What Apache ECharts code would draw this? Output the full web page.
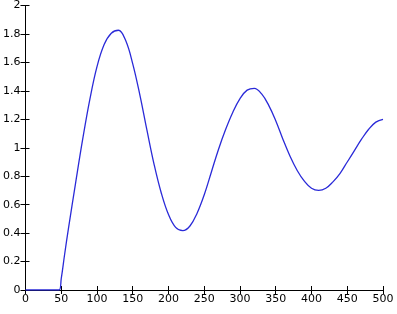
<!DOCTYPE html>
<html>
<head>
<meta charset="utf-8">
<script src="https://cdn.jsdelivr.net/npm/echarts@6/dist/echarts.min.js"></script>
<style>html,body{margin:0;padding:0;background:#fff}#c{width:397px;height:314px}</style>
</head>
<body>
<div id="c"></div>
<script>
var xValues = [0, 20, 40, 47, 50, 55, 60, 70, 80, 90, 100, 110, 120, 130, 140, 150, 160, 170, 180, 190, 200, 210, 220, 230, 240, 250, 260, 270, 280, 290, 300, 310, 320, 330, 340, 350, 360, 370, 380, 390, 400, 410, 420, 430, 440, 450, 460, 470, 480, 490, 500];
var yValues = [0, 0, 0, 0, 0.08, 0.26, 0.43, 0.75, 1.06, 1.34, 1.57, 1.725, 1.805, 1.826, 1.755, 1.59, 1.37, 1.12, 0.88, 0.68, 0.53, 0.44, 0.417, 0.45, 0.54, 0.67, 0.83, 0.99, 1.13, 1.25, 1.345, 1.405, 1.418, 1.38, 1.30, 1.19, 1.06, 0.94, 0.84, 0.765, 0.715, 0.70, 0.715, 0.76, 0.82, 0.90, 0.98, 1.06, 1.13, 1.18, 1.20];
var xTicks = [0, 50, 100, 150, 200, 250, 300, 350, 400, 450, 500];
var yTicks = [0, 0.2, 0.4, 0.6, 0.8, 1, 1.2, 1.4, 1.6, 1.8, 2];

var data = xValues.map(function (x, i) { return [x, yValues[i]]; });
var chart = echarts.init(document.getElementById('c'), null, {renderer: 'canvas'});
var font = {color: '#000', fontSize: 11, fontFamily: 'DejaVu Sans'};
chart.setOption({
  animation: false,
  backgroundColor: '#fff',
  grid: {left: 20, right: 14, top: 2, bottom: 24, containLabel: false},
  xAxis: [{
    type: 'value', min: 0, max: 500, interval: 50, position: 'bottom',
    axisLine: {show: true, lineStyle: {color: '#000', width: 1}},
    axisTick: {show: true, inside: true, length: 4, lineStyle: {color: '#000'}},
    axisLabel: Object.assign({margin: 4, formatter: function (v) { return xTicks.indexOf(v) >= 0 ? String(v) : ''; }}, font),
    splitLine: {show: false}
  }, {
    type: 'value', min: 0, max: 500, interval: 50, position: 'top',
    axisLine: {show: false},
    axisTick: {show: true, inside: true, length: 4, lineStyle: {color: '#000'}},
    axisLabel: {show: false}, splitLine: {show: false}
  }],
  yAxis: [{
    type: 'value', min: 0, max: 2, interval: 0.2, position: 'left',
    axisLine: {show: true, lineStyle: {color: '#000', width: 1}},
    axisTick: {show: true, inside: true, length: 4, lineStyle: {color: '#000'}},
    axisLabel: Object.assign({margin: 5, formatter: function (v) {
      var r = Math.round(v * 10) / 10;
      return yTicks.indexOf(r) >= 0 ? String(r) : '';
    }}, font),
    splitLine: {show: false}
  }, {
    type: 'value', min: 0, max: 2, interval: 0.2, position: 'right',
    axisLine: {show: false},
    axisTick: {show: true, inside: true, length: 5, lineStyle: {color: '#000'}},
    axisLabel: {show: false}, splitLine: {show: false}
  }],
  series: [{
    type: 'line', data: data, xAxisIndex: 0, yAxisIndex: 0,
    smooth: 0.4, showSymbol: false, symbol: 'none', z: 5,
    lineStyle: {color: '#2a2ad8', width: 1.3}
  }]
});
</script>
</body>
</html>
